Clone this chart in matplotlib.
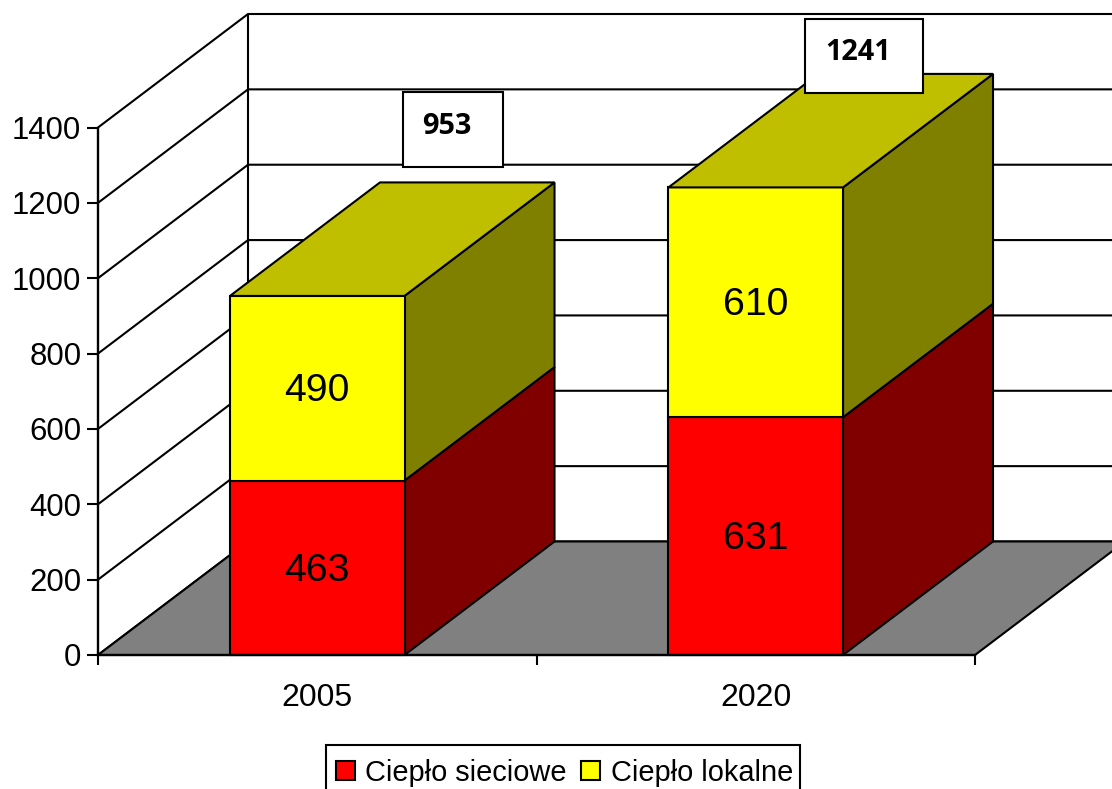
import matplotlib
matplotlib.use("Agg")
import matplotlib.pyplot as plt
from matplotlib.patches import Patch, Polygon, Rectangle
from matplotlib.transforms import Affine2D

plt.rcParams["font.family"] = ["Liberation Sans", "DejaVu Sans"]

years = ["2005", "2020"]
district_heat = [463, 631]
local_heat = [490, 610]
totals = [953, 1241]
y_ticks = [0, 200, 400, 600, 800, 1000, 1200, 1400]
series_names = ["Ciepło sieciowe", "Ciepło lokalne"]

W, H = 1112, 789
RED, RED_SIDE = "#FF0000", "#800000"
YEL, YEL_TOP, YEL_SIDE = "#FFFF00", "#BFBF00", "#808000"
GREY = "#808080"
BAR_W = 0.398
LW = 1.5

fig = plt.figure(figsize=(W / 100, H / 100), dpi=100, facecolor="white")
ax = fig.add_axes([98 / W, 1 - 655 / H, (975 - 98) / W, (655 - 127.5) / H])
ax.set_xlim(0, 2)
ax.set_ylim(0, 1400)
ax.patch.set_alpha(0)

# Oblique depth vector of the 3D box, expressed in data units
DX = 150 / ((975 - 98) / 2)
DY = 113.5 / ((655 - 127.5) / 1400)


def poly(points, face, z):
    ax.add_patch(Polygon(points, closed=True, facecolor=face, edgecolor="black",
                         linewidth=LW, zorder=z, clip_on=False, joinstyle="miter"))


def line(xs, ys, z=1):
    ax.plot(xs, ys, color="black", lw=LW, zorder=z, clip_on=False,
            solid_capstyle="butt")


# Back wall, side wall and floor
for v in y_ticks:
    line([0, DX, 2 + DX], [v, v + DY, v + DY])
line([DX, DX], [DY, y_ticks[-1] + DY])
poly([(0, 0), (2, 0), (2 + DX, DY), (DX, DY)], GREY, 1.5)


def draw_segment(x0, bottom, top, front, side, z):
    x1 = x0 + BAR_W
    poly([(x1, bottom), (x1 + DX, bottom + DY), (x1 + DX, top + DY), (x1, top)], side, z)
    ax.bar(x0, top - bottom, BAR_W, bottom=bottom, align="edge", color=front,
           edgecolor="black", linewidth=LW, zorder=z + 0.1, clip_on=False)


def value_label(x, y, value):
    ax.annotate(str(value), (x, y), xytext=(0, -2), textcoords="offset points",
                ha="center", va="center", fontsize=28.3, zorder=4)


# Stacked blocks with value labels centred on the front faces
for i, (a, b) in enumerate(zip(district_heat, local_heat)):
    x0 = i + 0.5 - BAR_W / 2
    draw_segment(x0, 0, a, RED, RED_SIDE, 2)
    draw_segment(x0, a, a + b, YEL, YEL_SIDE, 2.2)
    t = a + b
    poly([(x0, t), (x0 + BAR_W, t), (x0 + BAR_W + DX, t + DY), (x0 + DX, t + DY)], YEL_TOP, 2.4)
    value_label(i + 0.5, a / 2, a)
    value_label(i + 0.5, a + b / 2, b)

# Axes and ticks
ax.spines[["top", "right"]].set_visible(False)
for s in ("left", "bottom"):
    ax.spines[s].set_linewidth(LW + 0.2)
    ax.spines[s].set_zorder(5)
ax.set_yticks(y_ticks)
ax.tick_params(axis="y", length=8, width=LW, labelsize=22.4, pad=4)
ax.set_xticks([0, 1, 2])
ax.set_xticklabels([])
ax.tick_params(axis="x", which="major", length=7.5, width=LW)
ax.set_xticks([0.5, 1.5], minor=True)
ax.set_xticklabels(years, minor=True, fontsize=23)
ax.tick_params(axis="x", which="minor", length=0, pad=20)

# Callout boxes with the totals, placed in pixel coordinates of the figure
px = Affine2D().scale(1, -1).translate(0, H)
callouts = [(403, 92, 100, 75, 447, 127), (805, 19, 118, 74, 858, 53)]
for total, (bx, by, bw, bh, tx, ty) in zip(totals, callouts):
    fig.add_artist(Rectangle((bx, by), bw, bh, transform=px, facecolor="white",
                             edgecolor="black", linewidth=LW, zorder=6))
    fig.text(tx, ty, str(total), transform=px, ha="center", va="center",
             family="Open Sans", fontweight="bold", fontsize=20.8, zorder=7)

# Legend frame runs past the bottom of the figure, so it is drawn on its own
fig.add_artist(Rectangle((326, 745), 474, 55, transform=px, facecolor="white",
                         edgecolor="black", linewidth=LW, zorder=6))
leg = fig.legend(
    handles=[Patch(facecolor=RED, edgecolor="black", linewidth=LW, label=series_names[0]),
             Patch(facecolor=YEL, edgecolor="black", linewidth=LW, label=series_names[1])],
    ncol=2, loc="upper left", bbox_to_anchor=(326, 749), bbox_transform=px,
    fontsize=20.9, frameon=False, borderpad=0.34, borderaxespad=0,
    handlelength=0.65, handleheight=0.65, handletextpad=0.36, columnspacing=0.5)
leg.set_zorder(7)

fig.savefig("out.png", dpi=100)
